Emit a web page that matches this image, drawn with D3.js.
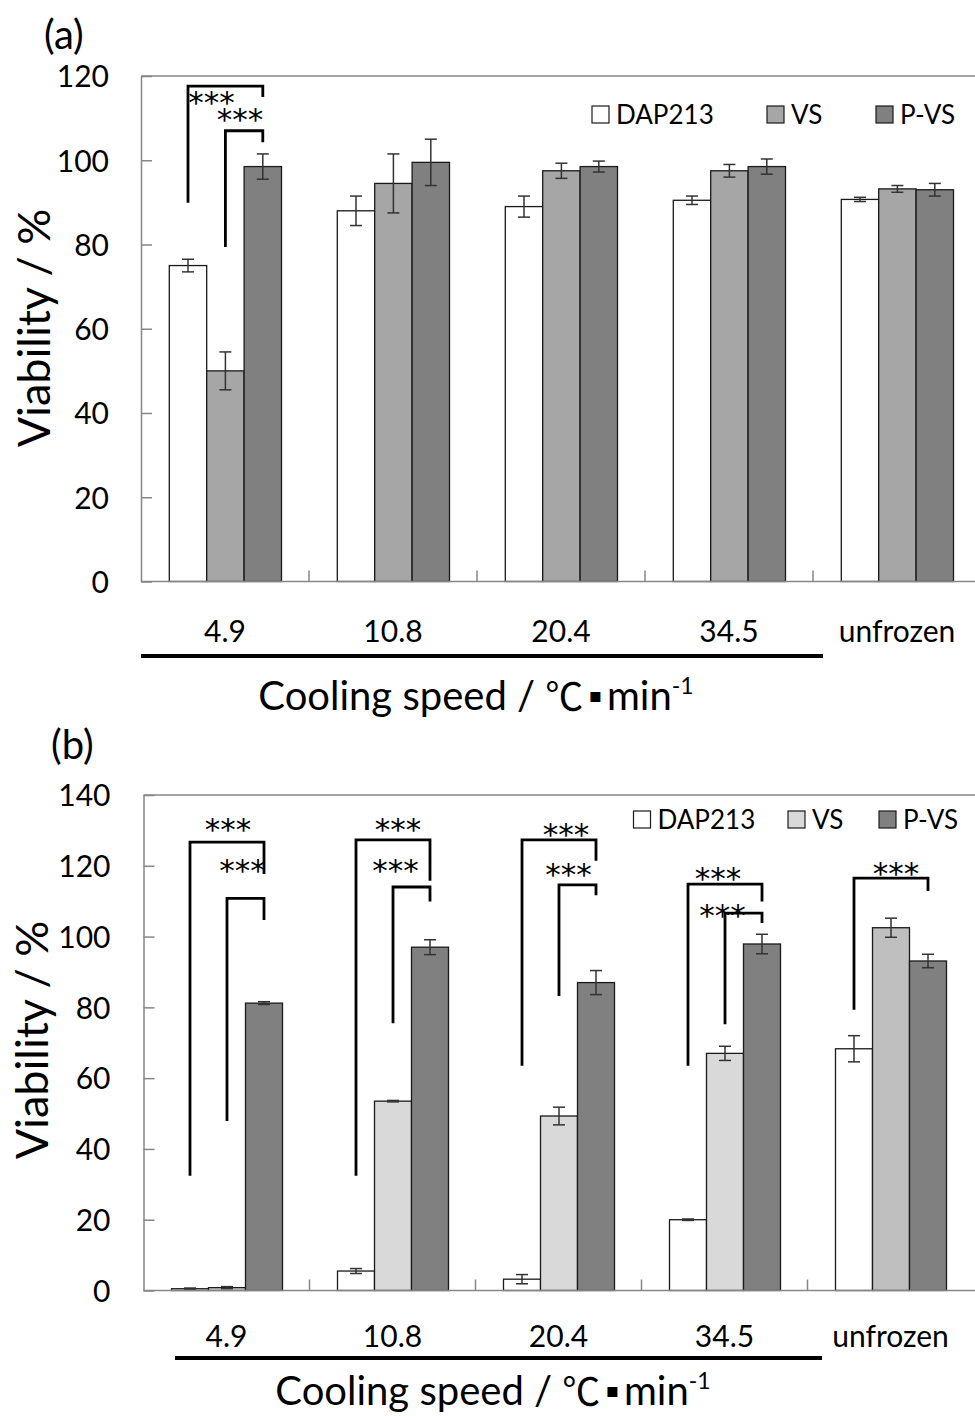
<!DOCTYPE html>
<html>
<head>
<meta charset="utf-8">
<script src="https://cdn.jsdelivr.net/npm/d3@7"></script>
<style>
  body { margin: 0; background: #fff; }
  text { font-family: Lato, "Open Sans", sans-serif; fill: #000; }
  .stars { font-family: "DejaVu Sans", sans-serif; }
</style>
</head>
<body>
<div id="chart"></div>
<script>
// ---------------- data ----------------
const categories = ["4.9", "10.8", "20.4", "34.5", "unfrozen"];
const series = ["DAP213", "VS", "P-VS"];

// panel (a)
const aDAP213 = [75, 88, 89, 90.5, 90.7];
const aDAP213Err = [1.5, 3.5, 2.5, 1, 0.5];
const aVS = [50, 94.5, 97.5, 97.5, 93.2];
const aVSErr = [4.5, 7, 1.8, 1.5, 0.8];
const aPVS = [98.5, 99.5, 98.5, 98.5, 93];
const aPVSErr = [3, 5.5, 1.3, 1.8, 1.5];

// panel (b)
const bDAP213 = [0.5, 5.5, 3.2, 20, 68.3];
const bDAP213Err = [0.2, 0.7, 1.3, 0.2, 3.7];
const bVS = [0.8, 53.5, 49.3, 67, 102.5];
const bVSErr = [0.3, 0.2, 2.5, 2, 2.7];
const bPVS = [81.2, 97, 87, 97.9, 93.1];
const bPVSErr = [0.4, 2.1, 3.4, 2.75, 1.9];

const aTicks = [0, 20, 40, 60, 80, 100, 120];
const bTicks = [0, 20, 40, 60, 80, 100, 120, 140];

// significance brackets (values on the y scale)
const aSig = [
  {cat: "4.9", from: "DAP213", to: "P-VS", top: 117.6, leftEnd: 89.9, rightEnd: 115, label: 115.2, dx: -14},
  {cat: "4.9", from: "VS", to: "P-VS", top: 107, leftEnd: 79.4, rightEnd: 104.3, label: 111.1, dx: -4}
];
const bSig = [
  {cat: "4.9", from: "DAP213", to: "P-VS", top: 126.7, leftEnd: 32.4, rightEnd: 117.7, label: 132.2, dx: 1},
  {cat: "4.9", from: "VS", to: "P-VS", top: 110.8, leftEnd: 47.9, rightEnd: 104.7, label: 120.5, dx: -3},
  {cat: "10.8", from: "DAP213", to: "P-VS", top: 127.3, leftEnd: 32.4, rightEnd: 115.8, label: 132.2, dx: 5},
  {cat: "10.8", from: "VS", to: "P-VS", top: 114, leftEnd: 75.5, rightEnd: 109.9, label: 120.5, dx: -16},
  {cat: "20.4", from: "DAP213", to: "P-VS", top: 127.3, leftEnd: 63.5, rightEnd: 121.4, label: 130.6, dx: 7},
  {cat: "20.4", from: "VS", to: "P-VS", top: 114.6, leftEnd: 83.2, rightEnd: 111.7, label: 119.5, dx: -9},
  {cat: "34.5", from: "DAP213", to: "P-VS", top: 114.8, leftEnd: 63.5, rightEnd: 109.9, label: 118.3, dx: -7},
  {cat: "34.5", from: "VS", to: "P-VS", top: 106.6, leftEnd: 75.2, rightEnd: 103.8, label: 107.8, dx: -21},
  {cat: "unfrozen", from: "DAP213", to: "P-VS", top: 116.5, leftEnd: 79.3, rightEnd: 112.9, label: 119.6, dx: 5}
];

// ---------------- set up ----------------
let svgWidth = 975;
let svgHeight = 1416;

let svg = d3.select("#chart")
  .append("svg")
  .attr("width", svgWidth)
  .attr("height", svgHeight);

function buildRows(values) {
  // values: [dapArr, dapErr, vsArr, vsErr, pvsArr, pvsErr]
  return categories.map((c, i) => ({
    cat: c,
    bars: series.map((s, k) => ({cat: c, key: s, value: values[k * 2][i], err: values[k * 2 + 1][i]}))
  }));
}

function drawPanel(p) {
  let g = svg.append("g");

  let x0 = d3.scaleBand().domain(categories).range([p.left, p.right]);
  let x1 = d3.scaleBand().domain(series).range([p.barStart, p.barStart + 3 * p.barWidth]);
  let y = d3.scaleLinear().domain([0, p.max]).range([p.bottom, p.top]);

  // top frame line
  g.append("line")
    .attr("x1", p.left).attr("x2", svgWidth)
    .attr("y1", p.top).attr("y2", p.top)
    .attr("stroke", "#868686").attr("stroke-width", 1.5);

  // y axis
  let yAxis = g.append("g")
    .attr("transform", `translate(${p.left},0)`)
    .call(d3.axisLeft(y).tickValues(p.ticks).tickSizeInner(-11).tickSizeOuter(0).tickPadding(p.tickPad));
  yAxis.select(".domain").attr("stroke", "#868686").attr("stroke-width", 1.5);
  yAxis.selectAll(".tick line").attr("stroke", "#868686").attr("stroke-width", 1.5);
  yAxis.selectAll(".tick text")
    .attr("font-family", "Lato").attr("font-size", 30).attr("fill", "#000").attr("dy", "0.36em");

  // bars
  let groups = g.selectAll(".grp")
    .data(p.rows)
    .enter()
    .append("g")
    .attr("transform", d => `translate(${x0(d.cat)},0)`);

  groups.selectAll("rect")
    .data(d => d.bars)
    .enter()
    .append("rect")
    .attr("x", d => x1(d.key))
    .attr("y", d => y(d.value))
    .attr("width", x1.bandwidth())
    .attr("height", d => y(0) - y(d.value))
    .attr("fill", d => p.fill(d))
    .attr("stroke", "#1a1a1a")
    .attr("stroke-width", 1.3);

  // error bars
  let eb = groups.selectAll(".err")
    .data(d => d.bars)
    .enter()
    .append("g")
    .attr("stroke", "#333")
    .attr("stroke-width", 1.5);
  let cx = d => x1(d.key) + x1.bandwidth() / 2;
  eb.append("line")
    .attr("x1", cx).attr("x2", cx)
    .attr("y1", d => y(d.value + d.err)).attr("y2", d => y(d.value - d.err));
  eb.append("line")
    .attr("x1", d => cx(d) - 6).attr("x2", d => cx(d) + 6)
    .attr("y1", d => y(d.value + d.err)).attr("y2", d => y(d.value + d.err));
  eb.append("line")
    .attr("x1", d => cx(d) - 6).attr("x2", d => cx(d) + 6)
    .attr("y1", d => y(d.value - d.err)).attr("y2", d => y(d.value - d.err));

  // x axis baseline and group boundary ticks
  g.append("line")
    .attr("x1", p.left).attr("x2", svgWidth)
    .attr("y1", p.bottom).attr("y2", p.bottom)
    .attr("stroke", "#868686").attr("stroke-width", 1.5);
  g.selectAll(".xtick")
    .data(categories.slice(1))
    .enter()
    .append("line")
    .attr("x1", d => x0(d)).attr("x2", d => x0(d))
    .attr("y1", p.bottom).attr("y2", p.bottom - 11)
    .attr("stroke", "#868686").attr("stroke-width", 1.5);

  // x labels
  let xAxis = g.append("g")
    .attr("transform", `translate(0,${p.bottom})`)
    .call(d3.axisBottom(x0).tickSize(0).tickPadding(p.xPad));
  xAxis.select(".domain").remove();
  xAxis.selectAll(".tick text")
    .attr("font-family", "Lato").attr("font-size", 30).attr("fill", "#000");

  // black line under the cooling speeds
  g.append("line")
    .attr("x1", p.lineStart).attr("x2", x0("34.5") + x0.bandwidth() + p.lineEndPad)
    .attr("y1", p.lineY).attr("y2", p.lineY)
    .attr("stroke", "#000").attr("stroke-width", 4);

  // x title
  let xt = g.append("text")
    .attr("x", p.xTitleX).attr("y", p.xTitleY)
    .attr("text-anchor", "middle")
    .attr("font-size", 40);
  xt.append("tspan").text("Cooling speed / ");
  xt.append("tspan").attr("font-family", "Noto Sans CJK JP").attr("font-size", 38).text("℃");
  xt.append("tspan").attr("font-family", "DejaVu Sans").attr("font-size", 20)
    .attr("dx", 5).attr("dy", -8).text("▪");
  xt.append("tspan").attr("dx", 5).attr("dy", 8).text("min");
  xt.append("tspan").attr("font-size", 23).attr("dy", -16).text("-1");

  // y title
  g.append("text")
    .attr("transform", `translate(${p.yTitleX},${p.yTitleY}) rotate(-90)`)
    .attr("text-anchor", "middle")
    .attr("font-size", 45)
    .text("Viability / %");

  // panel label
  g.append("text")
    .attr("x", p.tagX).attr("y", p.tagY)
    .attr("font-size", 40)
    .text(p.tag);

  // significance brackets
  let sig = g.selectAll(".sig")
    .data(p.sig)
    .enter()
    .append("g");
  let bx = (d, k) => x0(d.cat) + x1(k) + x1.bandwidth() / 2;
  sig.append("path")
    .attr("d", d => `M${bx(d, d.from)},${y(d.leftEnd)}V${y(d.top)}H${bx(d, d.to)}V${y(d.rightEnd)}`)
    .attr("fill", "none")
    .attr("stroke", "#000")
    .attr("stroke-width", 2.8);
  sig.append("text")
    .attr("class", "stars")
    .attr("x", d => (bx(d, d.from) + bx(d, d.to)) / 2 + d.dx)
    .attr("y", d => y(d.label) + 17)
    .attr("text-anchor", "middle")
    .attr("font-size", 31)
    .text("***");

  // legend
  let leg = g.append("g");
  p.legend.forEach((l, i) => {
    leg.append("rect")
      .attr("x", l.x).attr("y", p.legY - 8.5)
      .attr("width", 17).attr("height", 17)
      .attr("fill", p.legendFill[i])
      .attr("stroke", "#1a1a1a").attr("stroke-width", 1.2);
    leg.append("text")
      .attr("x", l.x + 24).attr("y", p.legY + 9)
      .attr("font-size", 26)
      .text(series[i]);
  });
}

// ---------------- panels ----------------
drawPanel({
  tag: "(a)", tagX: 44, tagY: 49,
  left: 141, right: 981, top: 76, bottom: 581.5, max: 120,
  barStart: 28.3, barWidth: 37.4,
  ticks: aTicks, tickPad: 32,
  rows: buildRows([aDAP213, aDAP213Err, aVS, aVSErr, aPVS, aPVSErr]),
  fill: d => d.key === "DAP213" ? "#ffffff" : d.key === "VS" ? "#a6a6a6" : "#808080",
  legendFill: ["#ffffff", "#a6a6a6", "#808080"],
  legend: [{x: 592}, {x: 767}, {x: 876}], legY: 114.5,
  sig: aSig,
  xPad: 39, lineStart: 141, lineEndPad: 10, lineY: 656,
  xTitleX: 476, xTitleY: 710,
  yTitleX: 50, yTitleY: 328
});

drawPanel({
  tag: "(b)", tagX: 51, tagY: 759,
  left: 143.5, right: 973.5, top: 795, bottom: 1290.5, max: 140,
  barStart: 28, barWidth: 37,
  ticks: bTicks, tickPad: 33,
  rows: buildRows([bDAP213, bDAP213Err, bVS, bVSErr, bPVS, bPVSErr]),
  fill: d => d.key === "DAP213" ? "#ffffff" : d.key === "VS" ? (d.cat === "unfrozen" ? "#bfbfbf" : "#d9d9d9") : "#808080",
  legendFill: ["#ffffff", "#d9d9d9", "#808080"],
  legend: [{x: 633.5}, {x: 788}, {x: 879}], legY: 819.5,
  sig: bSig,
  xPad: 35, lineStart: 175, lineEndPad: 14.5, lineY: 1358,
  xTitleX: 493, xTitleY: 1405,
  yTitleX: 48, yTitleY: 1040
});
</script>
</body>
</html>
